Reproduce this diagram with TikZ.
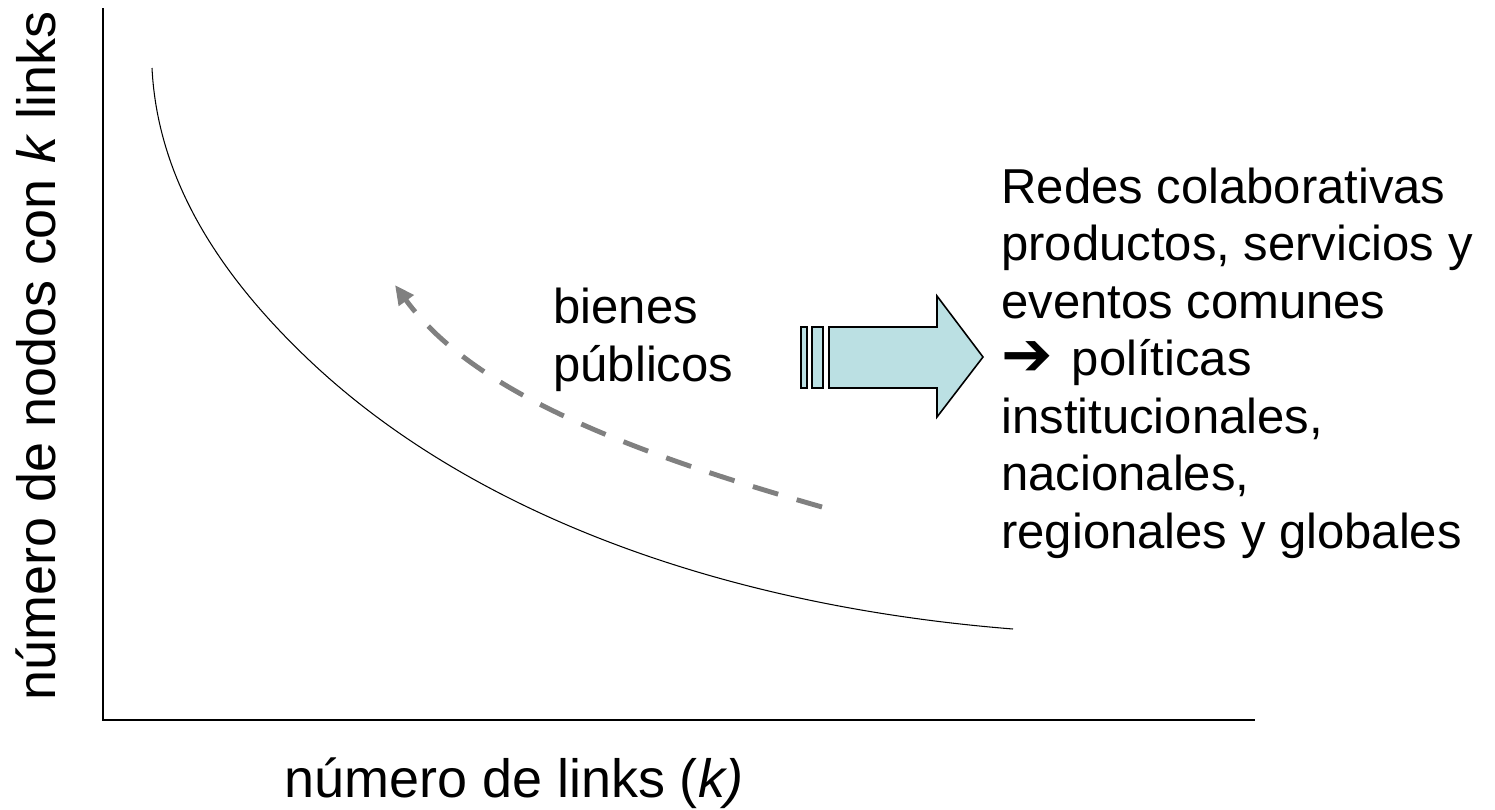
\documentclass[tikz,border=0pt]{standalone}
\usepackage{fontspec}
\setmainfont{Liberation Sans}
\newfontfamily\symfont{DejaVu Sans}
\usetikzlibrary{arrows.meta}
\definecolor{arrowfill}{HTML}{BBE0E3}

\begin{document}
\begin{tikzpicture}[x=0.02cm,y=-0.02cm,
  txt/.style={font=\fontsize{27.9}{32.7}\selectfont,inner sep=0pt,align=left},
  axtxt/.style={font=\fontsize{30.7}{36}\selectfont,inner sep=0pt},
  blockarrow/.style={draw,line width=0.9pt,fill=arrowfill,line join=miter}]
\useasboundingbox (0,0) rectangle (1495,809);

% axes
\coordinate (top) at (103,8);
\coordinate (o) at (103,720);
\coordinate (right) at (1255,720);
\draw[line width=0.9pt] (top) -- (o) -- (right);

\node[axtxt,anchor=base west] (xlab) at (284,797) {número de links (\textit{k)}};
\node[axtxt,anchor=base west,rotate=90] (ylab) at (55,701) {número de nodos con \textit{k} links};

% distribution
\coordinate (c0) at (152,68);
\coordinate (c1) at (309,360);
\coordinate (c2) at (1013,629);
\draw[line width=0.6pt] (c0) .. controls (158,188) and (229,284) .. (c1)
  .. controls (466,509) and (713,605) .. (c2);

% dashed arrow
\coordinate (d1) at (822,507);
\coordinate (d2) at (395,285);
\draw[gray,line width=2.8pt,dash pattern=on 15pt off 11pt,-{Triangle[length=11pt,width=10pt]}] (d1) .. controls (640,455) and (475,395) .. (d2);

% block arrow
\draw[blockarrow] (801,327) rectangle (807,388);
\draw[blockarrow] (812,327) rectangle (823,388);
\draw[blockarrow] (829,327) -- (937,327) -- (937,296) -- (983,357) -- (937,417) -- (937,388) -- (829,388) -- cycle;

\node[txt,anchor=base west] (bienes) at (553,381) {bienes\\públicos};
\node[txt,anchor=base west] (redes) at (1001,548) {Redes colaborativas\\productos, servicios y\\eventos comunes\\{\symfont\fontsize{35}{32.7}\selectfont ➔}\hspace{3pt} políticas\\institucionales,\\nacionales,\\regionales y globales};

\end{tikzpicture}
\end{document}
